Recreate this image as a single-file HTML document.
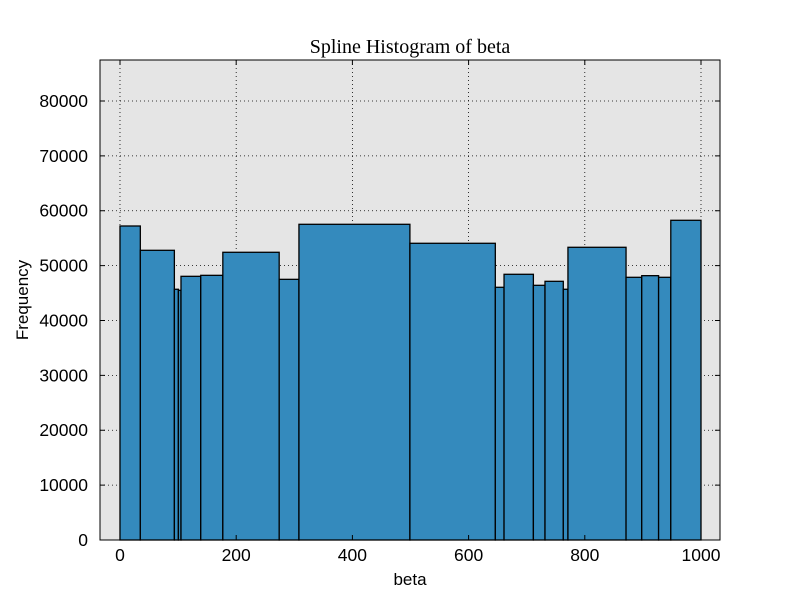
<!DOCTYPE html>
<html><head><meta charset="utf-8"><style>
body{margin:0;background:#fff;}
svg{display:block;font-family:"Liberation Sans",sans-serif;}
</style></head><body>
<svg id="chart" width="800" height="600">
<rect x="0" y="0" width="800" height="600" fill="#fff"/>
<rect id="plotbg" x="100" y="60" width="620" height="480" fill="#e5e5e5"/>
<g id="grid"></g>
<g id="bars"></g>
<rect x="100" y="60" width="620" height="480" fill="none" stroke="#000" stroke-width="1"/>
<g id="axes"></g>
<text x="410" y="53" text-anchor="middle" font-family="'Liberation Serif',serif" font-size="20">Spline Histogram of beta</text>
<text x="410" y="585" text-anchor="middle" font-size="17">beta</text>
<text x="28" y="300" text-anchor="middle" font-size="17" transform="rotate(-90 28 300)">Frequency</text>
</svg>
<script>
const binEdges=[0,35,93.6,100.5,105,139,177,274,308,499,646,661,711.5,731.5,763,771,871,898,927,948,1000];
const counts=[57220,52790,45690,45500,48050,48230,52430,47500,57530,54070,46050,48420,46410,47140,45690,53340,47870,48170,47870,58260];
const xTicks=[0,200,400,600,800,1000];
const yTicks=[0,10000,20000,30000,40000,50000,60000,70000,80000];
const NS="http://www.w3.org/2000/svg";
const X0=100,X1=720,Y0=540,Y1=60,xmin=-34.4,xmax=1032.7,ymin=0,ymax=87470;
function sx(v){return X0+(v-xmin)/(xmax-xmin)*(X1-X0);}
function sy(v){return Y0-(v-ymin)/(ymax-ymin)*(Y0-Y1);}
function mk(tag,attrs,parent){const e=document.createElementNS(NS,tag);for(const k in attrs)e.setAttribute(k,attrs[k]);parent.appendChild(e);return e;}
const grid=document.getElementById('grid'),bars=document.getElementById('bars'),axes=document.getElementById('axes');
xTicks.forEach(t=>{const x=sx(t);
 const g=mk('line',{x1:x,x2:x,y1:Y1,y2:Y0,stroke:'#000','stroke-dasharray':'1,3','stroke-width':0.8},grid);
 
 
 mk('line',{x1:x,x2:x,y1:Y0,y2:Y0-5,stroke:'#000'},axes);
 mk('line',{x1:x,x2:x,y1:Y1,y2:Y1+5,stroke:'#000'},axes);
 const tx=mk('text',{x:x,y:Y0+21,'text-anchor':'middle','font-size':17.5},axes);tx.textContent=t;
 
 
});
yTicks.forEach(t=>{const y=sy(t);
 const g=mk('line',{x1:X0,x2:X1,y1:y,y2:y,stroke:'#000','stroke-dasharray':'1,3','stroke-width':0.8},grid);
 
 
 mk('line',{x1:X0,x2:X0+5,y1:y,y2:y,stroke:'#000'},axes);
 mk('line',{x1:X1,x2:X1-5,y1:y,y2:y,stroke:'#000'},axes);
 const tx=mk('text',{x:X0-12,y:y+6,'text-anchor':'end','font-size':17.5},axes);tx.textContent=t;
 
 
});
counts.forEach((c,i)=>{const xa=sx(binEdges[i]),xb=sx(binEdges[i+1]),y=sy(c);
 const r=mk('rect',{x:xa,y:y,width:xb-xa,height:Y0-y,fill:'#348abd',stroke:'#000','stroke-width':1.3},bars);
 
 
});
</script>
</body></html>
